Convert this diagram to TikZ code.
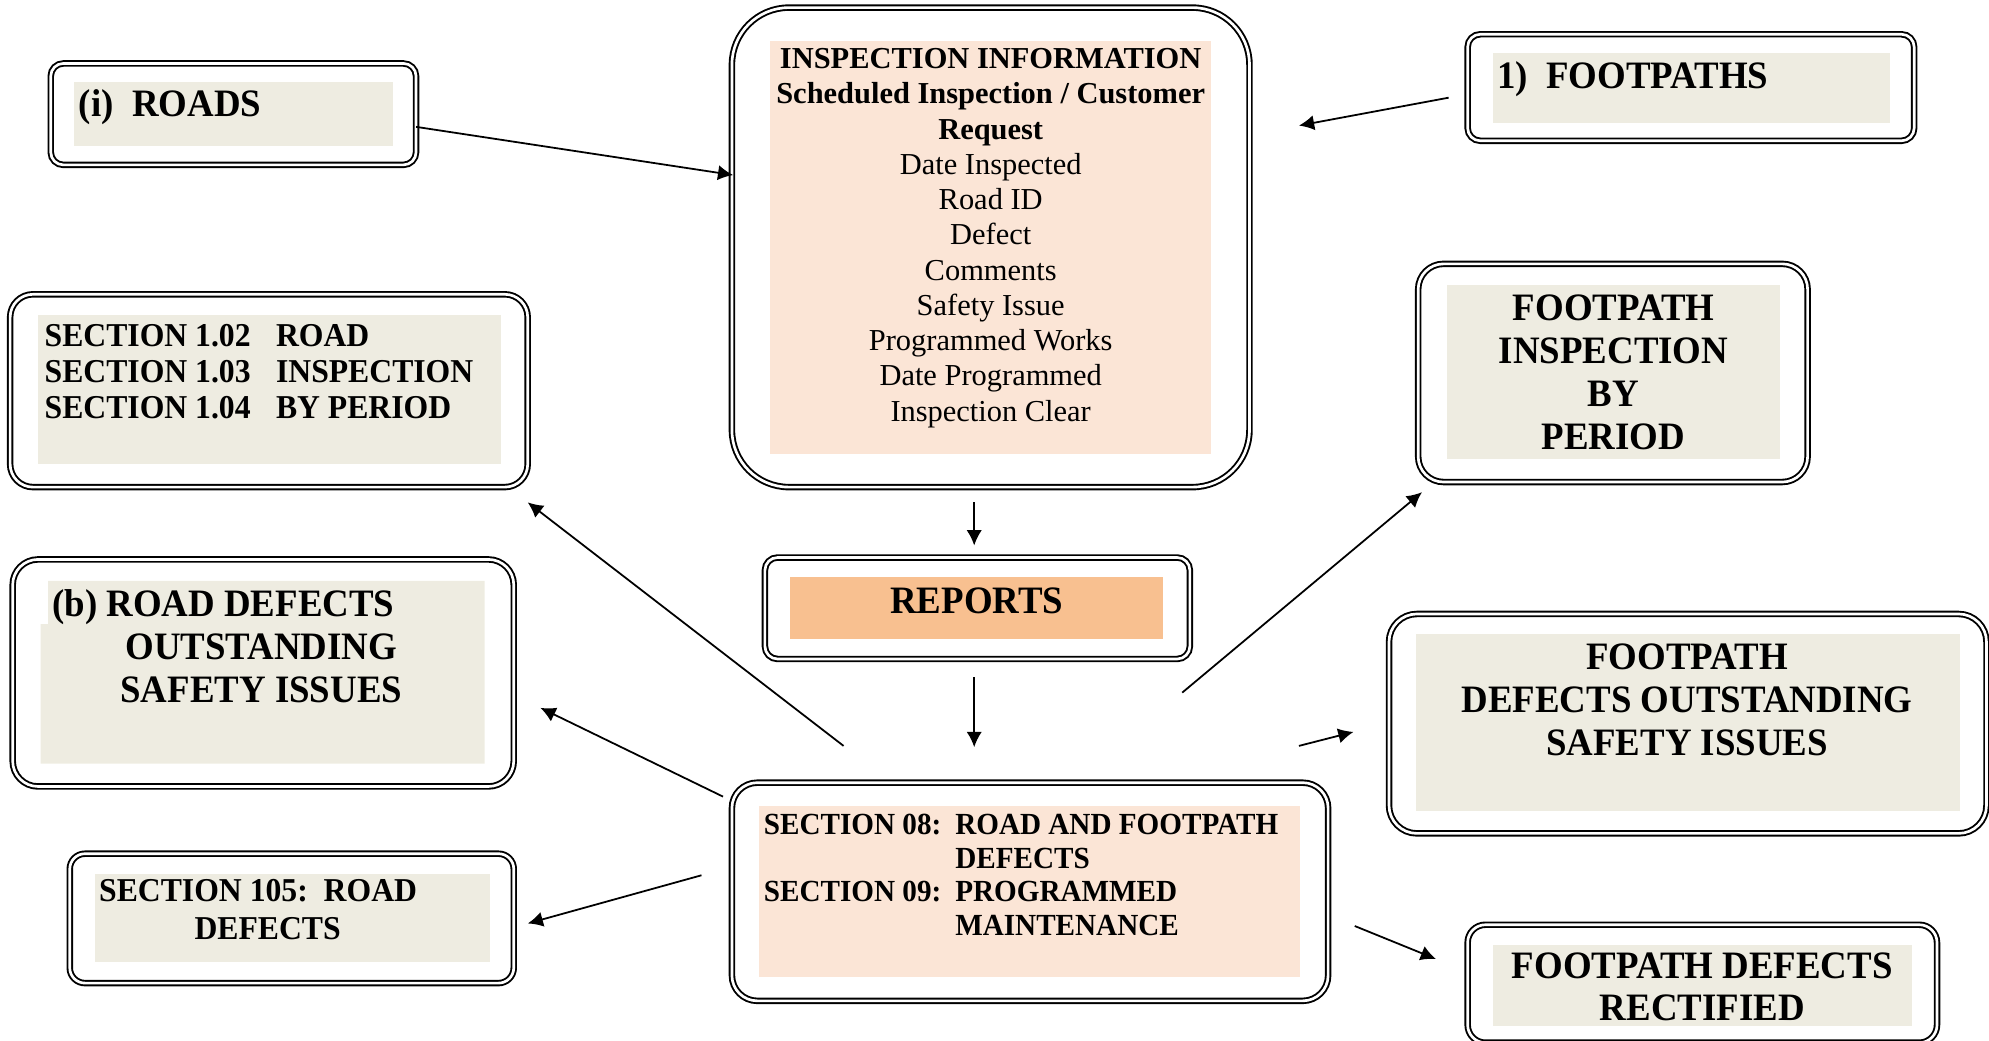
\documentclass[tikz,border=0pt]{standalone}
\usepackage{fontspec}
\setmainfont{Liberation Serif}
\newfontfamily\boxfont{Liberation Serif}[FakeStretch=0.95]
\usetikzlibrary{arrows.meta}

\definecolor{panelgrey}{HTML}{EEECE1}
\definecolor{panelpeach}{HTML}{FBE5D6}
\definecolor{panelorange}{HTML}{F8C090}

\begin{document}
\begin{tikzpicture}[x=1pt, y=-1pt,
		boxframe/.style={draw, double, line width=1.5pt, double distance=2.1pt, inner sep=0pt, rounded corners=#1},
		boxframe/.default=10pt,
		bigtext/.style={inner sep=0pt, font=\boxfont\bfseries\fontsize{30.6}{33.8}\selectfont},
		smalltext/.style={inner sep=0pt, font=\boxfont\bfseries\fontsize{26.3}{29}\selectfont},
		link/.style={-{Latex[length=12pt,width=12pt]}, line width=1.4pt}]
		
		\useasboundingbox (0,0) rectangle (1568,820);
		
		% Roads
		\node[boxframe, minimum width=288pt, minimum height=80pt] (roadsFrame) at (184,90) {};
		\fill[panelgrey] (58,65) rectangle (310,115);
		\node[bigtext, anchor=base west] (roads) at (62,92) {(i)\ \ ROADS};
		
		% Road inspection by period
		\node[boxframe=18pt, minimum width=408pt, minimum height=152pt] (periodFrame) at (212,308) {};
		\fill[panelgrey] (30,248) rectangle (395,366);
		\node[smalltext, anchor=base west, font=\boxfont\bfseries\fontsize{26.3}{28.6}\selectfont] (period) at (35,273)
		{\begin{tabular}[t]{@{}l@{\hspace{20pt}}l@{}}
				SECTION 1.02 & ROAD\\
				SECTION 1.03 & INSPECTION\\
				SECTION 1.04 & BY PERIOD
		\end{tabular}};
		
		% Inspection information
		\node[boxframe=45pt, minimum width=408pt, minimum height=378pt] (infoFrame) at (781,195) {};
		\fill[panelpeach] (607,32) rectangle (955,358);
		\node[inner sep=0pt, anchor=base, font=\fontsize{24}{27.8}\selectfont] (info) at (781,54)
		{\begin{tabular}[t]{@{}c@{}}
				\textbf{INSPECTION INFORMATION}\\
				\textbf{Scheduled Inspection / Customer}\\
				\textbf{Request}\\
				Date Inspected\\ Road ID\\ Defect\\ Comments\\ Safety Issue\\
				Programmed Works\\ Date Programmed\\ Inspection Clear
		\end{tabular}};
		
		% Footpaths
		\node[boxframe, minimum width=352pt, minimum height=84pt] (footFrame) at (1333,69) {};
		\fill[panelgrey] (1177,42) rectangle (1490,97);
		\node[bigtext, anchor=base west] (foot) at (1180,70) {1)\ \ FOOTPATHS};
		
		% Footpath inspection by period
		\node[boxframe=20pt, minimum width=307pt, minimum height=172pt] (fpPeriodFrame) at (1271.5,294) {};
		\fill[panelgrey] (1141,225) rectangle (1403,362);
		\node[bigtext, anchor=base] (fpPeriod) at (1272,253)
		{\begin{tabular}[t]{@{}c@{}}FOOTPATH\\ INSPECTION\\ BY\\ PERIOD\end{tabular}};
		
		% Reports
		\node[boxframe, minimum width=335pt, minimum height=80pt] (reportsFrame) at (770.5,479.5) {};
		\fill[panelorange] (623,455) rectangle (917,504);
		\node[bigtext, anchor=base] (reports) at (770,483.5) {REPORTS};
		
		% Road defects outstanding
		\node[boxframe=20pt, minimum width=395pt, minimum height=179pt] (rdOutFrame) at (207.5,530.5) {};
		\fill[panelgrey] (38,458) -- (382,458) -- (382,602) -- (32,602) -- (32,492) -- (38,492) -- cycle;
		\node[bigtext, anchor=base west] (rdOutA) at (41,486) {(b) ROAD DEFECTS};
		\node[bigtext, anchor=base] (rdOutB) at (206,520)
		{\begin{tabular}[t]{@{}c@{}}OUTSTANDING\\ SAFETY ISSUES\end{tabular}};
		
		% Road defects
		\node[boxframe=12pt, minimum width=350pt, minimum height=102pt] (rdFrame) at (230,724) {};
		\fill[panelgrey] (75,689) rectangle (386,758);
		\node[smalltext, anchor=base west] (rdA) at (78,711) {SECTION 105:\ \ ROAD};
		\node[smalltext, anchor=base] (rdB) at (211,741) {DEFECTS};
		
		% Sections 08 and 09
		\node[boxframe=20pt, minimum width=470pt, minimum height=172pt] (sectFrame) at (812,703) {};
		\fill[panelpeach] (598,635) rectangle (1025,770);
		\node[inner sep=0pt, anchor=base west, font=\boxfont\bfseries\fontsize{24.2}{26.4}\selectfont] (sect) at (602,658)
		{\begin{tabular}[t]{@{}l@{\hspace{11pt}}l@{}}
				SECTION 08: & ROAD AND FOOTPATH\\
				& DEFECTS\\
				SECTION 09: & PROGRAMMED\\
				& MAINTENANCE
		\end{tabular}};
		
		% Footpath defects outstanding
		\node[boxframe=22pt, minimum width=471pt, minimum height=173pt] (fpOutFrame) at (1330.5,570.5) {};
		\fill[panelgrey] (1116,500) rectangle (1545,639);
		\node[bigtext, anchor=base] (fpOut) at (1330,528)
		{\begin{tabular}[t]{@{}c@{}}FOOTPATH\\ DEFECTS OUTSTANDING\\ SAFETY ISSUES\end{tabular}};
		
		% Footpath defects rectified
		\node[boxframe=14pt, minimum width=370pt, minimum height=93pt] (fpFixFrame) at (1342,775.5) {};
		\fill[panelgrey] (1177,745) rectangle (1507,809);
		\node[bigtext, anchor=base] (fpFix) at (1342,771)
		{\begin{tabular}[t]{@{}c@{}}FOOTPATH DEFECTS\\ RECTIFIED\end{tabular}};
		
		% Arrow ends
		\coordinate (roadsOut) at (328,100);    \coordinate (infoInL) at (578,138);
		\coordinate (footOut) at (1142,77);     \coordinate (infoInR) at (1024,99);
		\coordinate (infoOut) at (768,396);     \coordinate (reportsIn) at (768,430);
		\coordinate (reportsOut) at (768,534);  \coordinate (sectIn) at (768,589);
		\coordinate (toPeriod) at (665,588);    \coordinate (periodIn) at (416,396);
		\coordinate (toRdOut) at (570,628);     \coordinate (rdOutIn) at (426,558);
		\coordinate (toRd) at (553,690);        \coordinate (rdIn) at (416,728);
		\coordinate (toFpPeriod) at (932,546);  \coordinate (fpPeriodIn) at (1121,388);
		\coordinate (toFpOut) at (1024,588);    \coordinate (fpOutIn) at (1067,577);
		\coordinate (toFpFix) at (1068,730);    \coordinate (fpFixIn) at (1132,756);
		
		% Arrows
		\foreach \a/\b in {roadsOut/infoInL, footOut/infoInR, infoOut/reportsIn,
			reportsOut/sectIn, toPeriod/periodIn, toRdOut/rdOutIn, toRd/rdIn,
			toFpPeriod/fpPeriodIn, toFpOut/fpOutIn, toFpFix/fpFixIn} {
			\draw[link] (\a) -- (\b);
		}
		
	\end{tikzpicture}
\end{document}
